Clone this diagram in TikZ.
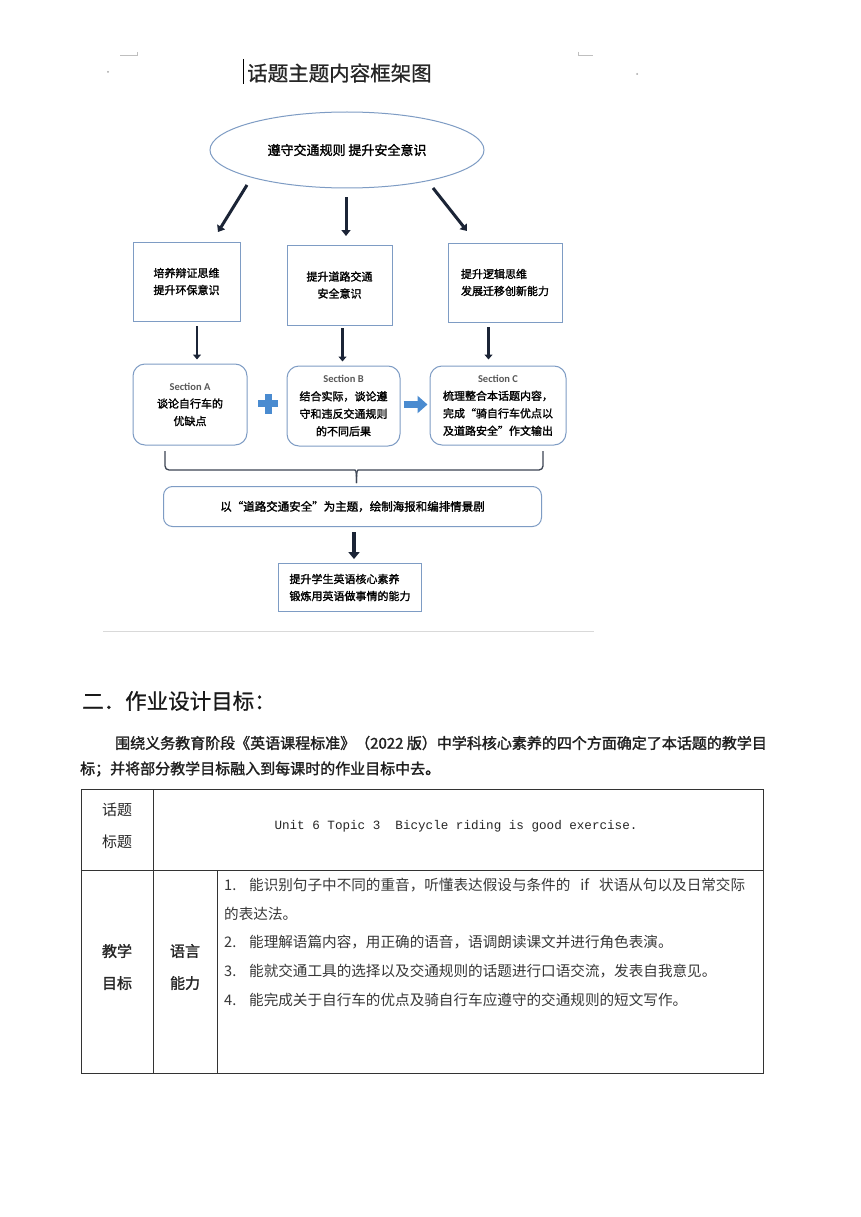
\documentclass[tikz,border=0pt]{standalone}
\usepackage{fontspec}
\setmainfont{Liberation Serif}
\newfontfamily\cjk{Noto Sans CJK SC}
\newfontfamily\cjkb[FakeBold=1.6]{Noto Sans CJK SC}
\newfontfamily\cjkp[FakeBold=0.8]{Noto Sans CJK SC}
\newfontfamily\monof{Liberation Mono}
\newfontfamily\secf{Carlito}
\usetikzlibrary{shapes.geometric,arrows.meta,calc}
\definecolor{navy}{HTML}{1B2436}
\definecolor{boxblue}{HTML}{7E9CC4}
\definecolor{accent}{HTML}{4A8BD0}
\newcommand\seclabel[1]{{\secf\bfseries\fontsize{10.5}{12}\selectfont\color{black!65}#1}}
\newcommand\itemno[1]{\makebox[25pt][l]{#1}}
\begin{document}
\begin{tikzpicture}[x=1pt,y=-1pt,
  sqbox/.style={draw=boxblue, line width=0.9pt, align=center, font=\cjkb\fontsize{11}{17}\selectfont},
  rbox/.style={draw=boxblue, line width=1pt, rounded corners=12pt, align=center, font=\cjkb\fontsize{11}{17.5}\selectfont},
  thickarr/.style={draw=navy, line width=3pt, -{Triangle[length=6pt,width=9pt]}},
  downarr/.style={draw=navy, line width=2.6pt, -{Triangle[length=5pt,width=8pt]}},
  tline/.style={draw=black!80, line width=0.8pt},
  listtxt/.style={anchor=west, font=\cjk\fontsize{14.6}{16}\selectfont, text=black!78, inner sep=0},
  celltxt/.style={font=\cjk\fontsize{15}{32}\selectfont, align=center, text=black!85}
]
\useasboundingbox[fill=white] (0,0) rectangle (860,1217);

% page marks
\draw[black!25, line width=0.8pt] (120,55) -- (137,55) -- (137,52);
\draw[black!25, line width=0.8pt] (578,52) -- (578,55) -- (593,55);
\fill[black!35] (108,72) circle (1);
\fill[black!35] (637,74) circle (1);

% title
\draw[line width=1.2pt] (243.5,59) -- (243.5,84);
\node[font=\cjkp\fontsize{20.5}{22}\selectfont, anchor=west, inner sep=0, text=black!85] (title) at (247,73) {话题主题内容框架图};

% ellipse
\node[ellipse, draw=boxblue, line width=1pt, minimum width=274pt, minimum height=76pt,
  font=\cjkb\fontsize{13}{15}\selectfont] (ell) at (347,150) {遵守交通规则\ 提升安全意识};

\coordinate (a1s) at (247,185); \coordinate (a1e) at (218,232);
\coordinate (a2s) at (346,197); \coordinate (a2e) at (346,236);
\coordinate (a3s) at (433,188); \coordinate (a3e) at (467,231);
\draw[thickarr] (a1s) -- (a1e);
\draw[thickarr] (a2s) -- (a2e);
\draw[thickarr] (a3s) -- (a3e);

% first row boxes
\node[sqbox, minimum width=107pt, minimum height=79pt] (b1) at (186.5,281.5) {培养辩证思维\\提升环保意识};
\node[sqbox, minimum width=105pt, minimum height=80pt] (b2) at (339.5,285) {提升道路交通\\安全意识};
\node[sqbox, minimum width=114pt, minimum height=79pt, align=left] (b3) at (505,282.5) {提升逻辑思维\\发展迁移创新能力};

% sections
\node[rbox, minimum width=114pt, minimum height=81pt] (sA) at (190,404.5) {\seclabel{Section A}\\谈论自行车的\\优缺点};
\node[rbox, minimum width=113pt, minimum height=80pt] (sB) at (343.5,406) {\seclabel{Section B}\\结合实际，谈论遵\\守和违反交通规则\\的不同后果};
\node[rbox, minimum width=136pt, minimum height=79pt] (sC) at (498,405.5) {\seclabel{Section C}\\梳理整合本话题内容，\\完成“骑自行车优点以\\及道路安全”作文输出};

\draw[downarr, shorten <=5pt, shorten >=4pt] ([xshift=10.5pt]b1.south) -- ([xshift=10.5pt]b1.south |- sA.north);
\draw[downarr, shorten <=3pt, shorten >=4pt] ([xshift=3pt]b2.south) -- ([xshift=3pt]b2.south |- sB.north);
\draw[downarr, shorten <=5pt, shorten >=6pt] ([xshift=-16.5pt]b3.south) -- ([xshift=-16.5pt]b3.south |- sC.north);

% plus sign and blue arrow
\fill[accent] (268.3,403.5) +(-10,-3.5) rectangle +(10,3.5);
\fill[accent] (268.3,403.5) +(-3.5,-10) rectangle +(3.5,10);
\draw[accent, line width=7pt, -{Triangle[length=10pt,width=17pt]}, shorten <=3pt, shorten >=2pt] ([yshift=1.5pt]sB.east) -- ([yshift=1.5pt]sB.east -| sC.west);

% brace
\draw[navy!85, line width=1.3pt, rounded corners=4pt] (165,451) -- (165,470) -- (351,470) to[out=0,in=90] (356.5,483);
\draw[navy!85, line width=1.3pt, rounded corners=4pt] (543,451) -- (543,470) -- (362,470) to[out=180,in=90] (356.5,483);

% wide box
\node[rbox, rounded corners=9pt, minimum width=378pt, minimum height=40pt, font=\cjkb\fontsize{11.5}{13}\selectfont] (wide) at (352.5,506.5) {以“道路交通安全”为主题，绘制海报和编排情景剧};

% final box
\node[sqbox, minimum width=143pt, minimum height=48pt, align=left] (fin) at (350,587.5) {提升学生英语核心素养\\锻炼用英语做事情的能力};
\draw[draw=navy, line width=4pt, -{Triangle[length=7pt,width=11pt]}, shorten <=5pt, shorten >=4pt] ([xshift=4pt]fin.north |- wide.south) -- ([xshift=4pt]fin.north);

% separator
\draw[black!15, line width=0.8pt] (103,631) -- (594,631);

% heading and paragraph
\node[anchor=west, inner sep=0, font=\cjkp\fontsize{21.5}{24}\selectfont, text=black!90] (head) at (82,701) {二．作业设计目标：};
\node[anchor=west, inner sep=0, font=\cjkb\fontsize{15}{17}\selectfont, text=black!88] (p1) at (115,743) {围绕义务教育阶段《英语课程标准》（2022 版）中学科核心素养的四个方面确定了本话题的教学目};
\node[anchor=west, inner sep=0, font=\cjkb\fontsize{15}{17}\selectfont, text=black!88] (p2) at (80,769) {标；并将部分教学目标融入到每课时的作业目标中去。};

% table
\draw[tline] (81,789) rectangle (763,1073);
\draw[tline] (81,870) -- (763,870);
\draw[tline] (153,789) -- (153,1073);
\draw[tline] (217,870) -- (217,1073);

\node[celltxt, font=\cjk\fontsize{15}{32}\selectfont] (c11) at (117,826) {话题\\标题};
\node[font=\monof\fontsize{12.6}{14}\selectfont, text=black!85] (c12) at (456,826) {Unit 6 Topic 3\ \ Bicycle riding is good exercise.};
\node[celltxt, font=\cjkb\fontsize{15}{32}\selectfont] (c21) at (117,967) {教学\\目标};
\node[celltxt, font=\cjkb\fontsize{15}{32}\selectfont] (c22) at (185,967) {语言\\能力};

\node[listtxt] (l1) at (224,885) {\itemno{1.}能识别句子中不同的重音，听懂表达假设与条件的\hspace{10pt}if\hspace{10pt}状语从句以及日常交际};
\node[listtxt] (l1b) at (224,914) {的表达法。};
\node[listtxt] (l2) at (224,942) {\itemno{2.}能理解语篇内容，用正确的语音，语调朗读课文并进行角色表演。};
\node[listtxt] (l3) at (224,971) {\itemno{3.}能就交通工具的选择以及交通规则的话题进行口语交流，发表自我意见。};
\node[listtxt] (l4) at (224,1000) {\itemno{4.}能完成关于自行车的优点及骑自行车应遵守的交通规则的短文写作。};
\end{tikzpicture}
\end{document}
